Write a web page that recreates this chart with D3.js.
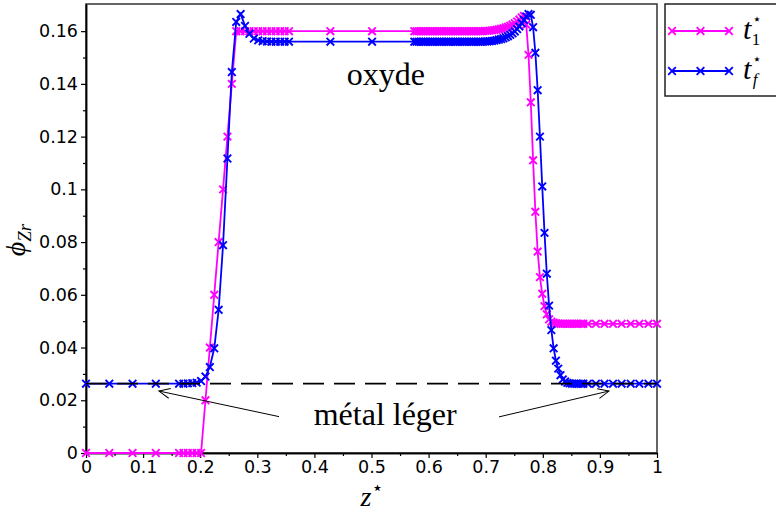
<!DOCTYPE html>
<html><head><meta charset="utf-8">
<script src="https://cdn.jsdelivr.net/npm/d3@7"></script>
<style>body{margin:0;background:#fff}svg{display:block}</style>
</head><body><svg id="c" width="776" height="518"></svg>
<script>
// ---------- data ----------
const zStar = [
  0, 0.0408, 0.0815, 0.1223,
  0.163, 0.1707, 0.1784, 0.1861, 0.1938, 0.2015, 0.2092, 0.2169, 0.2246, 0.2323,
  0.24, 0.2477, 0.2554, 0.2631, 0.2708, 0.2785, 0.2862, 0.2939, 0.3016, 0.3093,
  0.317, 0.3247, 0.3324, 0.3401, 0.3478, 0.3555,
  0.428, 0.501,
  0.575, 0.579, 0.583, 0.587, 0.591, 0.595, 0.599, 0.603, 0.607, 0.611,
  0.615, 0.619, 0.623, 0.627, 0.631, 0.635, 0.639, 0.643, 0.647, 0.651,
  0.655, 0.659, 0.663, 0.667, 0.671, 0.675, 0.679, 0.683, 0.687, 0.691,
  0.695, 0.699, 0.703, 0.707, 0.711, 0.715, 0.719, 0.723, 0.727, 0.731,
  0.735, 0.739, 0.743, 0.747, 0.751, 0.755, 0.759, 0.763, 0.767, 0.771,
  0.775, 0.779, 0.783, 0.787, 0.791, 0.795, 0.799, 0.803, 0.807, 0.811,
  0.815, 0.819, 0.823, 0.827, 0.831, 0.835, 0.839, 0.843, 0.847, 0.851,
  0.855, 0.859, 0.863, 0.867, 0.871,
  0.879, 0.893, 0.908, 0.923, 0.938, 0.954, 0.969, 0.985, 1.0
];
const phiT1 = [
  0, 0, 0, 0,
  0, 0, 0, 0, 0, 0, 0.02, 0.04, 0.06, 0.08,
  0.1, 0.12, 0.14, 0.16, 0.16, 0.16, 0.16, 0.16, 0.16, 0.16,
  0.16, 0.16, 0.16, 0.16, 0.16, 0.16,
  0.16, 0.16,
  0.16, 0.16, 0.16, 0.16, 0.16, 0.16, 0.16, 0.16, 0.16, 0.16,
  0.16, 0.16, 0.16, 0.16, 0.16, 0.16, 0.16, 0.16, 0.16, 0.16,
  0.16, 0.16, 0.16, 0.16, 0.16, 0.16, 0.16, 0.16, 0.16, 0.16,
  0.16, 0.1601, 0.1601, 0.1602, 0.1603, 0.1604, 0.1605, 0.1607, 0.1609, 0.1611,
  0.1614, 0.1617, 0.1621, 0.1625, 0.163, 0.1637, 0.1644, 0.1652, 0.1658, 0.1625,
  0.151, 0.133, 0.111, 0.0915, 0.0764, 0.0667, 0.0604, 0.0557, 0.0526, 0.0507,
  0.0498, 0.0494, 0.0492, 0.0491, 0.049, 0.049, 0.049, 0.049, 0.049, 0.049,
  0.049, 0.049, 0.049, 0.049, 0.049,
  0.049, 0.049, 0.049, 0.049, 0.049, 0.049, 0.049, 0.049, 0.049
];
const phiTf = [
  0.0263, 0.0263, 0.0263, 0.0263,
  0.0263, 0.0263, 0.0264, 0.0265, 0.0267, 0.0273, 0.029, 0.0326, 0.0397, 0.0543,
  0.0788, 0.1117, 0.1445, 0.1635, 0.1665, 0.162, 0.159, 0.1572, 0.1565, 0.1562,
  0.1561, 0.156, 0.156, 0.156, 0.156, 0.156,
  0.156, 0.156,
  0.156, 0.156, 0.156, 0.156, 0.156, 0.156, 0.156, 0.156, 0.156, 0.156,
  0.156, 0.156, 0.156, 0.156, 0.156, 0.156, 0.156, 0.156, 0.156, 0.156,
  0.156, 0.156, 0.156, 0.156, 0.156, 0.156, 0.156, 0.156, 0.156, 0.156,
  0.156, 0.1561, 0.1561, 0.1562, 0.1563, 0.1564, 0.1566, 0.1568, 0.157, 0.1573,
  0.1577, 0.1581, 0.1586, 0.1592, 0.1599, 0.1608, 0.1618, 0.163, 0.1643, 0.1656,
  0.1665, 0.1662, 0.1615, 0.1518, 0.1376, 0.12, 0.1011, 0.0835, 0.068, 0.0559,
  0.0466, 0.0397, 0.035, 0.032, 0.0295, 0.0279, 0.0271, 0.0266, 0.0264, 0.0263,
  0.0263, 0.0263, 0.0263, 0.0263, 0.0263,
  0.0263, 0.0263, 0.0263, 0.0263, 0.0263, 0.0263, 0.0263, 0.0263, 0.0263
];
const seriesNames = ["1", "f"];
const seriesColors = ["#ff00ff", "#0000ff"];
const xTicks = [0, 0.1, 0.2, 0.3, 0.4, 0.5, 0.6, 0.7, 0.8, 0.9, 1];
const xTickLabels = ["0", "0.1", "0.2", "0.3", "0.4", "0.5", "0.6", "0.7", "0.8", "0.9", "1"];
const xMinorTicks = [0.05, 0.15, 0.25, 0.35, 0.45, 0.55, 0.65, 0.75, 0.85, 0.95];
const yTicks = [0, 0.02, 0.04, 0.06, 0.08, 0.1, 0.12, 0.14, 0.16];
const yTickLabels = ["0", "0.02", "0.04", "0.06", "0.08", "0.1", "0.12", "0.14", "0.16"];
const yMinorTicks = [0.01, 0.03, 0.05, 0.07, 0.09, 0.11, 0.13, 0.15];
const referenceLevel = 0.0263;
const arrowTails = [[0.338, 0.0138], [0.7233, 0.0137]];
const arrowTips = [[0.1278, 0.0235], [0.9159, 0.0235]];
const textNotes = [["oxyde", 0.525, 0.1395], ["métal léger", 0.524, 0.0105]];

// ---------- drawing ----------
const svg = d3.select("#c");
const x = d3.scaleLinear([0, 1], [86, 657]);
const y = d3.scaleLinear([0, 0.1703], [453, 4]);
const tickFont = "'DejaVu Sans', sans-serif";
const serif = "'Liberation Serif', 'DejaVu Serif', serif";

svg.append("rect").attr("x", 0).attr("y", 0).attr("width", 776).attr("height", 518).attr("fill", "#fff");

// frame
svg.append("rect").attr("x", x(0)).attr("y", y.range()[1]).attr("width", x(1) - x(0)).attr("height", y.range()[0] - y.range()[1])
  .attr("fill", "none").attr("stroke", "#333").attr("stroke-width", 1.5);

function styleAxis(g) {
  g.selectAll("path.domain").attr("stroke", "#000").attr("stroke-width", 1.5);
  g.selectAll(".tick line").attr("stroke", "#000").attr("stroke-width", 1.2);
  g.selectAll("text").attr("font-family", tickFont).attr("font-size", 17.5).attr("fill", "#000");
}
const gx = svg.append("g").attr("transform", `translate(0,${y(0)})`)
  .call(d3.axisBottom(x).tickValues(xTicks).tickFormat((d, i) => xTickLabels[i]).tickSize(5).tickPadding(3).tickSizeOuter(0));
styleAxis(gx);
const gxm = svg.append("g").attr("transform", `translate(0,${y(0)})`)
  .call(d3.axisBottom(x).tickValues(xMinorTicks).tickFormat("").tickSize(3).tickSizeOuter(0));
styleAxis(gxm);
const gy = svg.append("g").attr("transform", `translate(${x(0)},0)`)
  .call(d3.axisLeft(y).tickValues(yTicks).tickFormat((d, i) => yTickLabels[i]).tickSize(5).tickPadding(3).tickSizeOuter(0));
styleAxis(gy);
const gym = svg.append("g").attr("transform", `translate(${x(0)},0)`)
  .call(d3.axisLeft(y).tickValues(yMinorTicks).tickFormat("").tickSize(3).tickSizeOuter(0));
styleAxis(gym);

// series
const series = [phiT1, phiTf];
const line = d3.line().x(d => x(d[0])).y(d => y(d[1]));
function cross(g, cx, cy, color) {
  const s = 3.8;
  g.append("path").attr("d", `M${cx - s},${cy - s}L${cx + s},${cy + s}M${cx - s},${cy + s}L${cx + s},${cy - s}`)
    .attr("stroke", color).attr("stroke-width", 1.9).attr("fill", "none");
}
series.forEach((vals, si) => {
  const pts = zStar.map((z, i) => [z, vals[i]]);
  const g = svg.append("g");
  g.append("path").attr("d", line(pts)).attr("fill", "none").attr("stroke", seriesColors[si]).attr("stroke-width", 1.8);
  pts.forEach(p => cross(g, x(p[0]), y(p[1]), seriesColors[si]));
});

// reference dashed line
svg.append("line").attr("x1", x(0)).attr("x2", x(1)).attr("y1", y(referenceLevel)).attr("y2", y(referenceLevel))
  .attr("stroke", "#000").attr("stroke-width", 1.7).attr("stroke-dasharray", "21,10");

// arrows
svg.append("defs").append("marker").attr("id", "ah").attr("markerUnits", "userSpaceOnUse")
  .attr("markerWidth", 14).attr("markerHeight", 14).attr("refX", 11).attr("refY", 6).attr("orient", "auto")
  .append("path").attr("d", "M0,1 L11,6 L0,11").attr("fill", "none").attr("stroke", "#000").attr("stroke-width", 1);
arrowTails.forEach((t, i) => {
  svg.append("line").attr("x1", x(t[0])).attr("y1", y(t[1])).attr("x2", x(arrowTips[i][0])).attr("y2", y(arrowTips[i][1]))
    .attr("stroke", "#000").attr("stroke-width", 1).attr("marker-end", "url(#ah)");
});

// notes
textNotes.forEach(n => {
  svg.append("text").attr("x", x(n[1])).attr("y", y(n[2])).attr("text-anchor", "middle")
    .attr("font-family", serif).attr("font-size", 32).attr("fill", "#000").text(n[0]);
});

// axis titles
const xl = svg.append("text").attr("x", 372).attr("y", 506).attr("font-family", serif).attr("font-size", 28)
  .attr("text-anchor", "middle").attr("fill", "#000");
xl.append("tspan").attr("font-style", "italic").text("z");
xl.append("tspan").attr("font-size", 19).attr("dy", -12).attr("font-family", "'DejaVu Sans', sans-serif").text("⋆");

const yl = svg.append("text").attr("transform", "translate(25,240) rotate(-90)").attr("font-family", serif)
  .attr("font-size", 28).attr("text-anchor", "middle").attr("fill", "#000");
yl.append("tspan").attr("font-style", "italic").text("ϕ");
yl.append("tspan").attr("font-style", "italic").attr("font-size", 19).attr("dy", 6).text("Zr");

// legend
const lg = svg.append("g");
lg.append("rect").attr("x", 665).attr("y", 4).attr("width", 130).attr("height", 92)
  .attr("fill", "#fff").attr("stroke", "#222").attr("stroke-width", 1.5);
const legendY = [31, 71];
const legendMarks = [672, 700.5, 729];
seriesNames.forEach((nm, i) => {
  lg.append("line").attr("x1", legendMarks[0]).attr("x2", legendMarks[2]).attr("y1", legendY[i]).attr("y2", legendY[i])
    .attr("stroke", seriesColors[i]).attr("stroke-width", 1.8);
  legendMarks.forEach(mx => cross(lg, mx, legendY[i], seriesColors[i]));
  const t = lg.append("text").attr("x", 743).attr("y", legendY[i] + 8).attr("font-family", serif).attr("fill", "#000");
  t.append("tspan").attr("font-style", "italic").attr("font-size", 30).text("t");
  t.append("tspan").attr("font-family", "'DejaVu Sans', sans-serif").attr("font-size", 15).attr("dx", 1).attr("dy", -15).text("⋆");
  t.append("tspan").attr("font-style", i === 1 ? "italic" : "normal").attr("font-size", 17)
    .attr("dx", i === 1 ? -9 : -10).attr("dy", 21).text(nm);
});
</script></body></html>
